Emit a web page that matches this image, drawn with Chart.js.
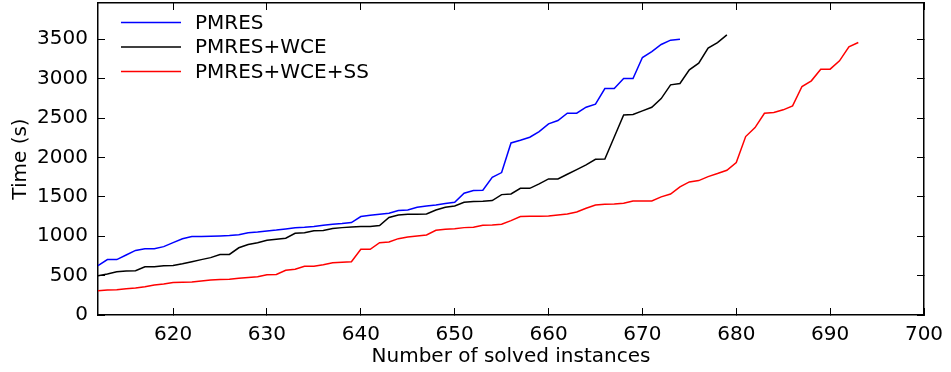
<!DOCTYPE html>
<html>
<head>
<meta charset="utf-8">
<script src="https://cdn.jsdelivr.net/npm/chart.js@4"></script>
<style>
  html, body { margin: 0; padding: 0; background: #fff; }
  canvas { display: block; }
</style>
</head>
<body>
<canvas id="chart" width="951" height="372"></canvas>
<script>
// instance numbers (x axis), shared by all series
const instances = [
  612, 613, 614, 615, 616, 617, 618, 619, 620, 621, 622, 623, 624, 625, 626, 627,
  628, 629, 630, 631, 632, 633, 634, 635, 636, 637, 638, 639, 640, 641, 642, 643,
  644, 645, 646, 647, 648, 649, 650, 651, 652, 653, 654, 655, 656, 657, 658, 659,
  660, 661, 662, 663, 664, 665, 666, 667, 668, 669, 670, 671, 672, 673, 674, 675,
  676, 677, 678, 679, 680, 681, 682, 683, 684, 685, 686, 687, 688, 689, 690, 691,
  692, 693
];

const labels = ["PMRES", "PMRES+WCE", "PMRES+WCE+SS"];

// time (s), one value per instance starting at 612
const pmres = [
  626, 703, 703, 762, 820, 840, 842, 868, 918, 967, 995, 997, 999, 1003, 1008, 1020,
  1045, 1054, 1067, 1078, 1092, 1107, 1113, 1122, 1139, 1151, 1160, 1173, 1250, 1266, 1279, 1291,
  1325, 1333, 1367, 1384, 1397, 1414, 1431, 1545, 1579, 1583, 1748, 1808, 2184, 2218, 2256, 2328,
  2426, 2468, 2561, 2561, 2637, 2676, 2874, 2874, 3001, 3001, 3268, 3344, 3433, 3488, 3501
];

const pmresWce = [
  497, 521, 548, 559, 561, 612, 612, 624, 628, 650, 677, 703, 728, 768, 769, 853,
  895, 918, 950, 962, 974, 1037, 1045, 1070, 1074, 1098, 1109, 1118, 1124, 1124, 1136, 1238,
  1268, 1279, 1279, 1283, 1333, 1367, 1384, 1431, 1440, 1444, 1452, 1528, 1537, 1608, 1608, 1664,
  1727, 1727, 1787, 1846, 1905, 1977, 1981, 2260, 2540, 2544, 2591, 2637, 2747, 2921, 2938, 3112,
  3196, 3387, 3458, 3556
];

const pmresWceSs = [
  307, 316, 322, 334, 343, 360, 381, 394, 411, 415, 419, 432, 445, 449, 453, 466,
  475, 485, 510, 514, 567, 582, 618, 620, 639, 662, 670, 675, 834, 834, 918, 926,
  969, 991, 1003, 1016, 1075, 1088, 1096, 1109, 1113, 1139, 1143, 1151, 1198, 1249, 1253, 1253,
  1257, 1270, 1283, 1308, 1355, 1397, 1405, 1410, 1418, 1448, 1448, 1448, 1499, 1535, 1626, 1689,
  1706, 1756, 1795, 1837, 1934, 2265, 2379, 2561, 2570, 2604, 2654, 2900, 2972, 3120, 3120, 3226,
  3404, 3458
];

const xTicks = [620, 630, 640, 650, 660, 670, 680, 690, 700];
const yTicks = [0, 500, 1000, 1500, 2000, 2500, 3000, 3500];

const FONT = "'DejaVu Sans', 'Liberation Sans', sans-serif";

function toPoints(values) {
  return values.map((v, i) => ({ x: instances[i], y: v }));
}

// legend in the upper left corner, inside the axes
const cornerLegend = {
  id: "cornerLegend",
  afterDraw(chart) {
    const ctx = chart.ctx;
    ctx.save();
    ctx.font = "20px " + FONT;
    ctx.textBaseline = "middle";
    ctx.textAlign = "left";
    chart.data.datasets.forEach((ds, i) => {
      const y = 22.5 + i * 24.5;
      ctx.strokeStyle = ds.borderColor;
      ctx.lineWidth = 1.5;
      ctx.beginPath();
      ctx.moveTo(121, y);
      ctx.lineTo(181, y);
      ctx.stroke();
      ctx.fillStyle = "#000";
      ctx.fillText(ds.label, 195, y + 1);
    });
    ctx.restore();
  },
};

const colors = ["#0000ff", "#000000", "#ff0000"];
const series = [pmres, pmresWce, pmresWceSs];

// keep tick labels from pushing the plot area inwards
function noOverflowPadding(s) {
  s.paddingTop = 0;
  s.paddingBottom = 0;
  s.paddingLeft = 0;
  s.paddingRight = 0;
}

// frame side + inward tick marks (negative tick length points into the plot)
const sideBorder = { display: true, color: "#000", width: 1.5 };
const inwardTicks = {
  display: true,
  drawOnChartArea: false,
  drawTicks: true,
  tickLength: -7,
  color: "#000",
  lineWidth: 1,
};

new Chart(document.getElementById("chart"), {
  type: "line",
  data: {
    datasets: series.map((s, i) => ({
      label: labels[i],
      data: toPoints(s),
      borderColor: colors[i],
      borderWidth: 1.5,
      pointRadius: 0,
      tension: 0,
      fill: false,
    })),
  },
  options: {
    responsive: false,
    animation: false,
    devicePixelRatio: 1,
    layout: { padding: { top: 3, right: 27, left: 0, bottom: 0 } },
    plugins: {
      legend: { display: false },
      tooltip: { enabled: false },
    },
    scales: {
      x: {
        type: "linear",
        position: "bottom",
        min: 612,
        max: 700,
        grid: inwardTicks,
        border: sideBorder,
        afterBuildTicks: (s) => { s.ticks = xTicks.map((v) => ({ value: v })); },
        afterFit: (s) => { s.height = 57; noOverflowPadding(s); },
        ticks: {
          font: { family: FONT, size: 20 },
          color: "#000",
          padding: 15,
          maxRotation: 0,
          callback: (v) => String(v),
        },
        title: {
          display: true,
          text: "Number of solved instances",
          font: { family: FONT, size: 20 },
          color: "#000",
          padding: { top: 0, bottom: 3 },
        },
      },
      x2: {
        type: "linear",
        position: "top",
        min: 612,
        max: 700,
        grid: inwardTicks,
        border: sideBorder,
        afterBuildTicks: (s) => { s.ticks = xTicks.map((v) => ({ value: v })); },
        afterFit: (s) => { s.height = 0; noOverflowPadding(s); },
        ticks: { display: false },
      },
      y: {
        position: "left",
        min: 0,
        max: 3960,
        grid: inwardTicks,
        border: sideBorder,
        afterBuildTicks: (s) => { s.ticks = yTicks.map((v) => ({ value: v })); },
        afterFit: (s) => { s.width = 98; noOverflowPadding(s); },
        ticks: {
          font: { family: FONT, size: 20 },
          color: "#000",
          padding: 17,
          callback: (v) => String(v),
        },
        title: {
          display: true,
          text: "Time (s)",
          font: { family: FONT, size: 20 },
          color: "#000",
          padding: { top: 9, bottom: 0 },
        },
      },
      y2: {
        type: "linear",
        position: "right",
        min: 0,
        max: 3960,
        grid: inwardTicks,
        border: sideBorder,
        afterBuildTicks: (s) => { s.ticks = yTicks.map((v) => ({ value: v })); },
        afterFit: (s) => { s.width = 0; noOverflowPadding(s); },
        ticks: { display: false },
      },
    },
  },
  plugins: [cornerLegend],
});
</script>
</body>
</html>
